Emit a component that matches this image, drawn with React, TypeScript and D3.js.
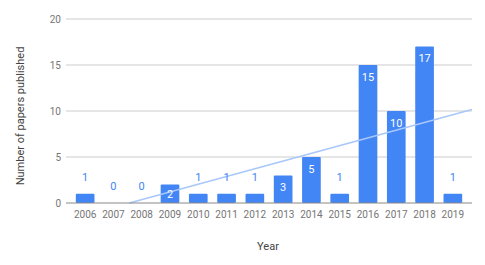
import React, { useEffect, useRef } from "react";
import * as d3 from "d3";

const years = ["2006", "2007", "2008", "2009", "2010", "2011", "2012", "2013", "2014", "2015", "2016", "2017", "2018", "2019"];
const papers = [1, 0, 0, 2, 1, 1, 1, 3, 5, 1, 15, 10, 17, 1];
const yTicks = [0, 5, 10, 15, 20];

const App = () => {
  const svgRef = useRef<SVGSVGElement>(null);

  useEffect(() => {
    const width = 485, height = 265;
    const gridLeft = 66, gridRight = 472, top = 19, bottom = 203;
    const font = "Roboto, Arial, sans-serif";

    const svg = d3.select(svgRef.current)
      .attr("width", width)
      .attr("height", height)
      .style("display", "block");
    svg.selectAll("*").remove();

    const x = d3.scaleBand().domain(years).range([71, 467]).paddingInner(0.34).paddingOuter(0.17);
    const y = d3.scaleLinear().domain([0, 20]).range([bottom, top]);

    svg.append("g").selectAll("line")
      .data(yTicks.filter(t => t > 0))
      .enter().append("line")
      .attr("x1", gridLeft).attr("x2", gridRight)
      .attr("y1", d => y(d)).attr("y2", d => y(d))
      .attr("stroke", "#cccccc").attr("stroke-width", 1);

    svg.append("g").selectAll("text")
      .data(yTicks)
      .enter().append("text")
      .attr("x", 61).attr("y", d => y(d) + 3.5)
      .attr("text-anchor", "end")
      .attr("font-family", font).attr("font-size", 10)
      .attr("fill", "#757575")
      .text(d => d);

    // trendline (least squares over year index)
    const xs = papers.map((_, i) => i);
    const mx = d3.mean(xs)!, my = d3.mean(papers)!;
    const slope = d3.sum(xs, (v, i) => (v - mx) * (papers[i] - my)) / d3.sum(xs, v => (v - mx) ** 2);
    const icpt = my - slope * mx;
    const step = x.step();
    const c0 = x(years[0])! + x.bandwidth() / 2;
    const toIdx = (px: number) => (px - c0) / step;
    const x0 = c0 + (-icpt / slope) * step;
    const x1 = gridRight;

    const bars = svg.append("g");
    bars.selectAll("rect")
      .data(papers)
      .enter().append("rect")
      .attr("x", (_, i) => x(years[i])!)
      .attr("y", d => y(d))
      .attr("width", x.bandwidth())
      .attr("height", d => bottom - y(d))
      .attr("rx", 1)
      .attr("fill", "#4285f4");

    svg.append("line")
      .attr("x1", x0).attr("y1", y(0))
      .attr("x2", x1).attr("y2", y(icpt + slope * toIdx(x1)))
      .attr("stroke", "#a8c7fa").attr("stroke-width", 1.5);

    svg.append("line")
      .attr("x1", gridLeft).attr("x2", gridRight)
      .attr("y1", bottom).attr("y2", bottom)
      .attr("stroke", "#888888").attr("stroke-width", 1);

    svg.append("g").selectAll("text")
      .data(papers)
      .enter().append("text")
      .attr("x", (_, i) => x(years[i])! + x.bandwidth() / 2)
      .attr("y", d => {
        if (d < 2) return y(d) - 13;
        const h = bottom - y(d);
        return y(d) + Math.min(11.5, h / 2) + 4;
      })
      .attr("text-anchor", "middle")
      .attr("font-family", font).attr("font-size", 11)
      .attr("fill", d => d < 2 ? "#4285f4" : "#ffffff")
      .text(d => d);

    svg.append("g").selectAll("text")
      .data(years)
      .enter().append("text")
      .attr("x", d => x(d)! + x.bandwidth() / 2)
      .attr("y", 218)
      .attr("text-anchor", "middle")
      .attr("font-family", font).attr("font-size", 10)
      .attr("fill", "#757575")
      .text(d => d);

    svg.append("text")
      .attr("x", 268).attr("y", 250)
      .attr("text-anchor", "middle")
      .attr("font-family", font).attr("font-size", 11)
      .attr("fill", "#444444")
      .text("Year");

    svg.append("text")
      .attr("transform", "rotate(-90)")
      .attr("x", -116).attr("y", 24)
      .attr("text-anchor", "middle")
      .attr("font-family", font).attr("font-size", 11)
      .attr("fill", "#444444")
      .text("Number of papers published");
  }, []);

  return <svg ref={svgRef} style={{ position: "absolute", left: 0, top: 0 }}></svg>;
};

export default App;
